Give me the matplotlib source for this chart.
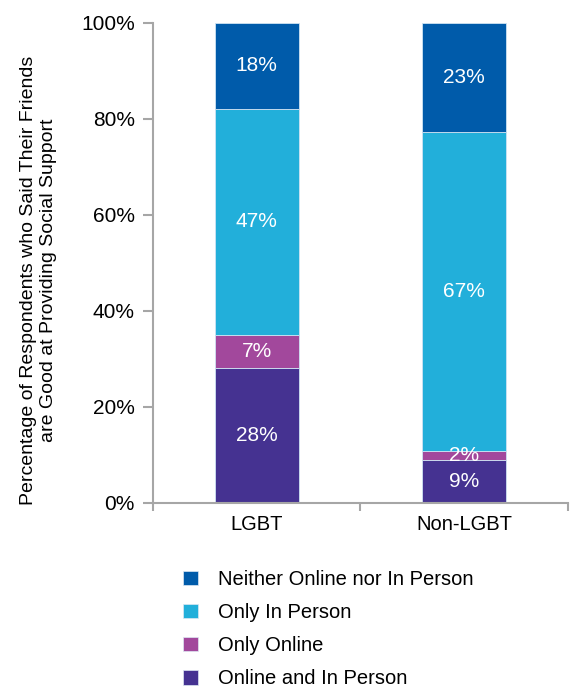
import matplotlib.pyplot as plt
import numpy as np
from matplotlib.patches import Patch

# Data
groups = ['LGBT', 'Non-LGBT']
series_names = ['Online and In Person', 'Only Online', 'Only In Person', 'Neither Online nor In Person']
online_and_in_person = [28, 9]
only_online = [7, 2]
only_in_person = [47, 67]
neither = [18, 23]
colors = ['#453291', '#A2489C', '#22AFDA', '#005BAA']

plt.rcParams['font.family'] = ['Liberation Sans', 'DejaVu Sans']

fig = plt.figure(figsize=(5.73, 6.88), dpi=100)
ax = fig.add_axes([0.267, 0.269, 0.724, 0.698])

series = [online_and_in_person, only_online, only_in_person, neither]
# stacks are scaled to 100% (rounded shares can add up to 101)
totals = np.sum(np.array(series, dtype=float), axis=0)
x = np.arange(len(groups))
bottom = np.zeros(len(groups))
for vals, name, col in zip(series, series_names, colors):
    vals = np.array(vals, dtype=float)
    heights = vals / totals * 100
    ax.bar(x, heights, 0.405, bottom=bottom, color=col, label=name,
           edgecolor='#cfe3f3', linewidth=0.6)
    for xi, v, h, b in zip(x, vals, heights, bottom):
        ax.text(xi, b + h / 2, f'{int(v)}%', ha='center', va='center',
                color='white', fontsize=15)
    bottom += heights

ax.set_xlim(-0.5, 1.5)
ax.set_ylim(0, 100)
ax.set_yticks(np.arange(0, 101, 20))
ax.set_yticklabels([f'{v}%' for v in range(0, 101, 20)], fontsize=15)
ax.set_xticks(x)
ax.set_xticklabels(groups, fontsize=14.5)
ax.set_xticks([-0.5, 0.5, 1.5], minor=True)
ax.tick_params(axis='x', which='major', length=0, pad=9)
ax.tick_params(axis='x', which='minor', length=6, width=1.5, color='#a6a6a6')
ax.tick_params(axis='y', length=7, width=1.5, color='#a6a6a6', pad=6)

for side in ['top', 'right']:
    ax.spines[side].set_visible(False)
for side in ['left', 'bottom']:
    ax.spines[side].set_color('#a6a6a6')
    ax.spines[side].set_linewidth(1.5)

ax.set_ylabel('Percentage of Respondents who Said Their Friends\nare Good at Providing Social Support',
              fontsize=14)
ax.yaxis.set_label_coords(-0.232, 0.463)

handles = [Patch(facecolor=c, edgecolor='#dde8f3', linewidth=0.5) for c in colors][::-1]
fig.legend(handles, series_names[::-1], loc='upper left', bbox_to_anchor=(0.287, 0.198),
           frameon=False, fontsize=14.5, handlelength=0.75, handleheight=0.75,
           handletextpad=1.0, labelspacing=0.7)

plt.savefig('out.png', dpi=100)
